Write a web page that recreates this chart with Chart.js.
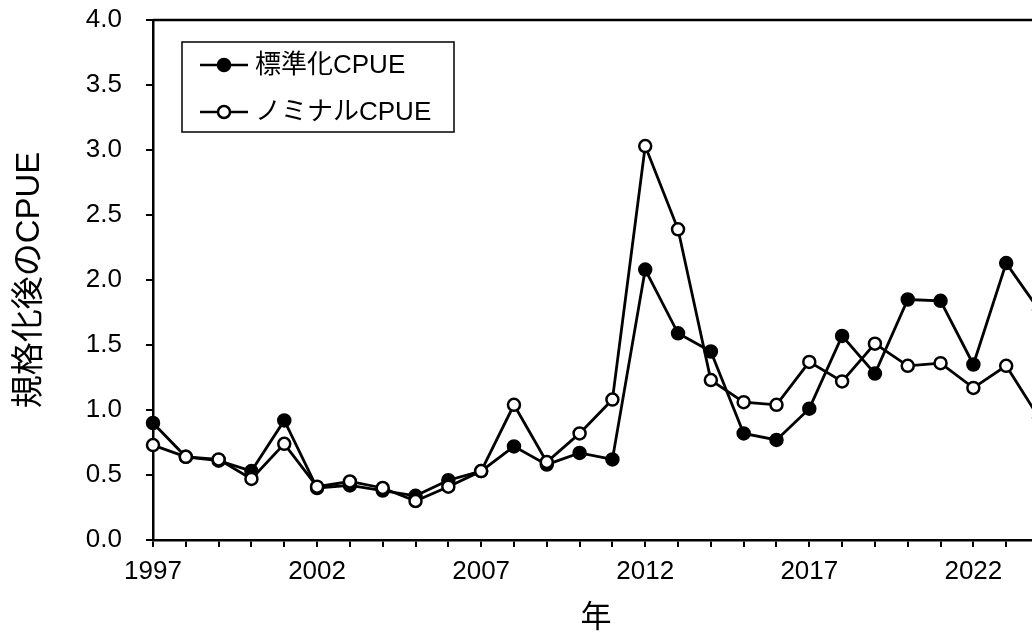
<!DOCTYPE html>
<html>
<head>
<meta charset="utf-8">
<script src="https://cdn.jsdelivr.net/npm/chart.js@4/dist/chart.umd.min.js"></script>
<style>
  html, body { margin: 0; padding: 0; background: #fff; overflow: hidden; width: 1032px; height: 635px; }
  #wrap { position: absolute; left: 0; top: 0; width: 1050px; height: 635px; }
</style>
</head>
<body>
<div id="wrap"><canvas id="c" width="1050" height="635"></canvas></div>
<script>
const years = [1997,1998,1999,2000,2001,2002,2003,2004,2005,2006,2007,2008,2009,2010,2011,2012,2013,2014,2015,2016,2017,2018,2019,2020,2021,2022,2023,2024];
const standardizedCPUE = [0.90,0.64,0.61,0.53,0.92,0.40,0.42,0.38,0.34,0.46,0.53,0.72,0.58,0.67,0.62,2.08,1.59,1.45,0.82,0.77,1.01,1.57,1.28,1.85,1.84,1.35,2.13,1.77];
const nominalCPUE = [0.73,0.64,0.62,0.47,0.74,0.41,0.45,0.40,0.30,0.41,0.53,1.04,0.60,0.82,1.08,3.03,2.39,1.23,1.06,1.04,1.37,1.22,1.51,1.34,1.36,1.17,1.34,0.94];
const seriesLabels = ['標準化CPUE', 'ノミナルCPUE'];
const xTitle = '年';
const yTitle = '規格化後のCPUE';

const FONT = "'Liberation Sans', Arial, 'Noto Sans CJK JP', sans-serif";

const toXY = (vals) => vals.map((v, i) => ({ x: years[i], y: v }));

const framePlugin = {
  id: 'frame',
  beforeDatasetsDraw(chart) {
    const { ctx, chartArea: a } = chart;
    ctx.save();
    ctx.strokeStyle = '#000';
    ctx.lineWidth = 2.5;
    ctx.beginPath();
    ctx.moveTo(a.left, a.top);
    ctx.lineTo(a.right, a.top);
    ctx.lineTo(a.right, a.bottom);
    ctx.stroke();
    ctx.restore();
  }
};

const legendBoxPlugin = {
  id: 'legendBox',
  afterDraw(chart) {
    const { ctx } = chart;
    const box = { l: 182, t: 42, r: 454, b: 132 };
    ctx.save();
    ctx.fillStyle = '#fff';
    ctx.fillRect(box.l, box.t, box.r - box.l, box.b - box.t);
    ctx.strokeStyle = '#000';
    ctx.lineWidth = 1.5;
    ctx.strokeRect(box.l, box.t, box.r - box.l, box.b - box.t);
    const rows = [65, 112];
    chart.data.datasets.forEach((ds, i) => {
      const y = rows[i];
      ctx.strokeStyle = '#000';
      ctx.lineWidth = 2.5;
      ctx.beginPath();
      ctx.moveTo(200, y);
      ctx.lineTo(248, y);
      ctx.stroke();
      ctx.beginPath();
      ctx.arc(224, y, 6, 0, Math.PI * 2);
      ctx.fillStyle = ds.pointBackgroundColor;
      ctx.fill();
      ctx.lineWidth = 2.5;
      ctx.stroke();
      ctx.fillStyle = '#000';
      ctx.font = '26px ' + FONT;
      ctx.textAlign = 'left';
      ctx.textBaseline = 'middle';
      ctx.fillText(ds.label, 255, y + 1);
    });
    ctx.restore();
  }
};

new Chart(document.getElementById('c'), {
  type: 'line',
  data: {
    datasets: [
      {
        label: seriesLabels[0],
        data: toXY(standardizedCPUE),
        borderColor: '#000',
        borderWidth: 2.8,
        pointRadius: 6,
        pointBorderWidth: 2.5,
        pointBackgroundColor: '#000',
        pointBorderColor: '#000',
        order: 1,
        clip: false
      },
      {
        label: seriesLabels[1],
        data: toXY(nominalCPUE),
        borderColor: '#000',
        borderWidth: 2.8,
        pointRadius: 6,
        pointBorderWidth: 2.5,
        pointBackgroundColor: '#fff',
        pointBorderColor: '#000',
        order: 0,
        clip: false
      }
    ]
  },
  options: {
    responsive: false,
    animation: false,
    layout: { padding: { left: 0, top: 20, right: 11, bottom: 0 } },
    plugins: {
      legend: { display: false },
      tooltip: { enabled: false }
    },
    scales: {
      x: {
        type: 'linear',
        min: 1997,
        max: 2024,
        afterFit(scale) { scale.height = 95; scale.paddingLeft = 0; scale.paddingRight = 0; },
        afterBuildTicks(scale) { scale.ticks = years.map(v => ({ value: v })); },
        ticks: {
          autoSkip: false,
          maxRotation: 0,
          color: '#000',
          padding: 9,
          font: { family: FONT, size: 26 },
          callback: (v) => ((v - 1997) % 5 === 0 ? String(v) : '')
        },
        grid: { drawOnChartArea: false, color: '#000', lineWidth: 2, tickLength: 7 },
        border: { color: '#000', width: 2.5 },
        title: {
          display: true,
          text: xTitle,
          color: '#000',
          font: { family: FONT, size: 31 },
          padding: { top: 0, bottom: -2 }
        }
      },
      y: {
        min: 0,
        max: 4,
        afterFit(scale) { scale.width = 153; scale.paddingTop = 0; scale.paddingBottom = 0; },
        ticks: {
          stepSize: 0.5,
          color: '#000',
          padding: 24,
          font: { family: FONT, size: 26 },
          callback: (v) => Number(v).toFixed(1)
        },
        grid: { drawOnChartArea: false, color: '#000', lineWidth: 2, tickLength: 7 },
        border: { color: '#000', width: 2.5 },
        title: {
          display: true,
          text: yTitle,
          color: '#000',
          font: { family: FONT, size: 33 },
          padding: { top: 10, bottom: 0 }
        }
      }
    }
  },
  plugins: [framePlugin, legendBoxPlugin]
});
</script>
</body>
</html>
